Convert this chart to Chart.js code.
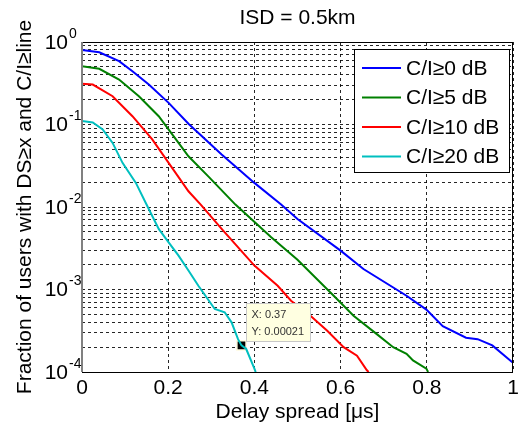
<!DOCTYPE html>
<html>
<head>
<meta charset="utf-8">
<script src="https://cdn.jsdelivr.net/npm/chart.js@4.4.0/dist/chart.umd.min.js"></script>
<style>
  html, body { margin: 0; padding: 0; background: #fff; }
</style>
</head>
<body>
<canvas id="mainChart" width="521" height="428"></canvas>
<script>
// --- Data ---
const xBlue  = [0, 0.04, 0.086, 0.117, 0.155, 0.201, 0.247, 0.324, 0.40, 0.462, 0.50, 0.60, 0.653, 0.753, 0.799, 0.837, 0.891, 0.918, 0.952, 0.997, 1.0];
const yBlue  = [0.80, 0.75, 0.585, 0.443, 0.305, 0.183, 0.102, 0.0433, 0.0196, 0.0107, 0.00716, 0.00296, 0.00177, 0.00084, 0.00057, 0.00036, 0.00026, 0.00025, 0.00021, 0.000133, 0.00013];

const xGreen = [0, 0.04, 0.086, 0.132, 0.178, 0.224, 0.247, 0.293, 0.356, 0.439, 0.50, 0.584, 0.63, 0.684, 0.722, 0.753, 0.768, 0.799, 0.803];
const yGreen = [0.51, 0.473, 0.351, 0.220, 0.126, 0.0598, 0.0412, 0.0235, 0.0107, 0.0043, 0.00229, 0.00084, 0.00048, 0.000288, 0.0002, 0.000166, 0.000138, 0.00011, 0.0001];

const xRed   = [0, 0.025, 0.071, 0.117, 0.163, 0.201, 0.247, 0.276, 0.324, 0.40, 0.454, 0.485, 0.53, 0.569, 0.607, 0.638, 0.661, 0.665];
const yRed   = [0.311, 0.305, 0.220, 0.126, 0.066, 0.0343, 0.0155, 0.0106, 0.00542, 0.00195, 0.00111, 0.00073, 0.00048, 0.000316, 0.0002, 0.000158, 0.000105, 0.0001];

const xCyan  = [0, 0.025, 0.048, 0.071, 0.094, 0.125, 0.148, 0.178, 0.201, 0.224, 0.247, 0.27, 0.308, 0.331, 0.347, 0.362, 0.37, 0.381, 0.40, 0.403];
const yCyan  = [0.11, 0.106, 0.087, 0.0598, 0.0343, 0.0196, 0.0112, 0.00542, 0.00373, 0.00257, 0.0017, 0.00111, 0.00058, 0.00053, 0.0004, 0.00025, 0.00021, 0.00019, 0.00011, 0.0001];

const seriesLabels = ['C/I\u22650 dB', 'C/I\u22655 dB', 'C/I\u226510 dB', 'C/I\u226520 dB'];
const xTicks = [0, 0.2, 0.4, 0.6, 0.8, 1];
const yDecades = [-4, -3, -2, -1, 0];

// data tip
const tipX = 0.37;
const tipY = 0.00021;

const FONT = '"Liberation Sans", Arial, sans-serif';

function pts(xs, ys) {
    return xs.map((x, i) => ({ x: x, y: ys[i] }));
}

// all 1..9 x 10^k gridlines
function logTicks() {
    const out = [];
    yDecades.forEach(d => {
        for (let m = 1; m <= 9; m++) {
            if (d === 0 && m > 1) break;
            out.push({ value: m * Math.pow(10, d) });
        }
    });
    return out;
}

// --- Custom drawing: box, tick labels, titles, legend, data tip ---
const decor = {
    id: 'decor',
    afterDatasetsDraw(chart) {
        const ctx = chart.ctx;
        const a = chart.chartArea;
        const xs = chart.scales.x, ys = chart.scales.y;
        ctx.save();

        // axes box
        ctx.setLineDash([]);
        ctx.lineWidth = 1;
        ctx.strokeStyle = '#000';
        ctx.strokeRect(a.left + 0.5, a.top + 0.5, a.right - a.left - 1, a.bottom - a.top);
        ctx.strokeStyle = '#808080';
        ctx.lineWidth = 2;
        ctx.beginPath();
        ctx.moveTo(a.left, a.top);
        ctx.lineTo(a.left, a.bottom);
        ctx.stroke();

        ctx.fillStyle = '#000';

        // x tick labels
        ctx.font = '21px ' + FONT;
        ctx.textAlign = 'center';
        ctx.textBaseline = 'middle';
        xTicks.forEach(t => {
            ctx.fillText(String(t), xs.getPixelForValue(t), 388);
        });

        // y tick labels 10^k
        yDecades.forEach(d => {
            const py = ys.getPixelForValue(Math.pow(10, d));
            ctx.font = '21px ' + FONT;
            ctx.textAlign = 'right';
            ctx.textBaseline = 'middle';
            ctx.fillText('10', 68, py + 1);
            ctx.font = '14px ' + FONT;
            ctx.textAlign = 'left';
            ctx.fillText(d === 0 ? '0' : '-' + Math.abs(d), 69, py - 8);
        });

        // title
        ctx.font = '21px ' + FONT;
        ctx.textAlign = 'center';
        ctx.textBaseline = 'middle';
        ctx.fillText('ISD = 0.5km', (a.left + a.right) / 2, 18);

        // x title
        ctx.fillText('Delay spread [\u03bcs]', (a.left + a.right) / 2, 412);

        // y title
        ctx.save();
        ctx.translate(25, (a.top + a.bottom) / 2);
        ctx.rotate(-Math.PI / 2);
        ctx.fillText('Fraction of users with DS\u2265x and C/I\u2265line', 0, 0);
        ctx.restore();

        // legend
        const lx = 354.5, ly = 49.5, lw = 155, lh = 123;
        ctx.fillStyle = '#fff';
        ctx.fillRect(lx, ly, lw, lh);
        ctx.strokeStyle = '#000';
        ctx.lineWidth = 1;
        ctx.strokeRect(lx, ly, lw, lh);
        ctx.font = '21px ' + FONT;
        ctx.textAlign = 'left';
        ctx.textBaseline = 'middle';
        chart.data.datasets.slice(0, 4).forEach((ds, i) => {
            const yy = 68 + i * 29.5;
            ctx.strokeStyle = ds.borderColor;
            ctx.lineWidth = 2;
            ctx.beginPath();
            ctx.moveTo(362, yy);
            ctx.lineTo(401, yy);
            ctx.stroke();
            ctx.fillStyle = '#000';
            ctx.fillText(ds.label, 406, yy + 1);
        });

        // data tip box
        const px = xs.getPixelForValue(tipX), py = ys.getPixelForValue(tipY);
        const bx = Math.round(px + 5) + 0.5, by = Math.round(py - 42) + 0.5;
        ctx.fillStyle = '#ffffe1';
        ctx.fillRect(bx, by, 64, 38);
        ctx.strokeStyle = '#c8c8c8';
        ctx.lineWidth = 1;
        ctx.strokeRect(bx, by, 64, 38);
        ctx.fillStyle = '#333';
        ctx.font = '11px ' + FONT;
        ctx.fillText('X: ' + tipX, bx + 5, by + 11);
        ctx.fillText('Y: ' + tipY.toFixed(5), bx + 5, by + 28);

        ctx.restore();
    }
};

const gridStyle = {
    color: 'rgba(0,0,0,0.85)',
    lineWidth: 1,
    drawTicks: false
};

new Chart(document.getElementById('mainChart').getContext('2d'), {
    type: 'line',
    data: {
        datasets: [
            { label: seriesLabels[0], data: pts(xBlue, yBlue),   borderColor: '#0000ff' },
            { label: seriesLabels[1], data: pts(xGreen, yGreen), borderColor: '#008000' },
            { label: seriesLabels[2], data: pts(xRed, yRed),     borderColor: '#ff0000' },
            { label: seriesLabels[3], data: pts(xCyan, yCyan),   borderColor: '#00bfbf' },
            {
                label: 'tip',
                type: 'scatter',
                data: [{ x: tipX, y: tipY }],
                pointStyle: 'rect',
                pointRadius: 6.5,
                backgroundColor: '#000',
                borderColor: '#fffbe0',
                borderWidth: 1.5,
                showLine: false
            }
        ].map(ds => Object.assign({ borderWidth: 2, pointRadius: 0, tension: 0, fill: false }, ds))
    },
    options: {
        responsive: false,
        animation: false,
        devicePixelRatio: 1,
        layout: { padding: { top: 42, right: 4, left: 0, bottom: 0 } },
        plugins: {
            legend: { display: false },
            tooltip: { enabled: false },
            title: { display: false }
        },
        scales: {
            x: {
                type: 'linear',
                min: 0,
                max: 1,
                ticks: { display: false, stepSize: 0.2 },
                grid: gridStyle,
                border: { display: false, dash: [3, 3] },
                afterFit: s => { s.height = 56; }
            },
            y: {
                type: 'logarithmic',
                min: 1e-4,
                max: 1,
                ticks: { display: false },
                afterBuildTicks: s => { s.ticks = logTicks(); },
                grid: gridStyle,
                border: { display: false, dash: [3, 3] },
                afterFit: s => { s.width = 82; }
            }
        }
    },
    plugins: [decor]
});
</script>
</body>
</html>
